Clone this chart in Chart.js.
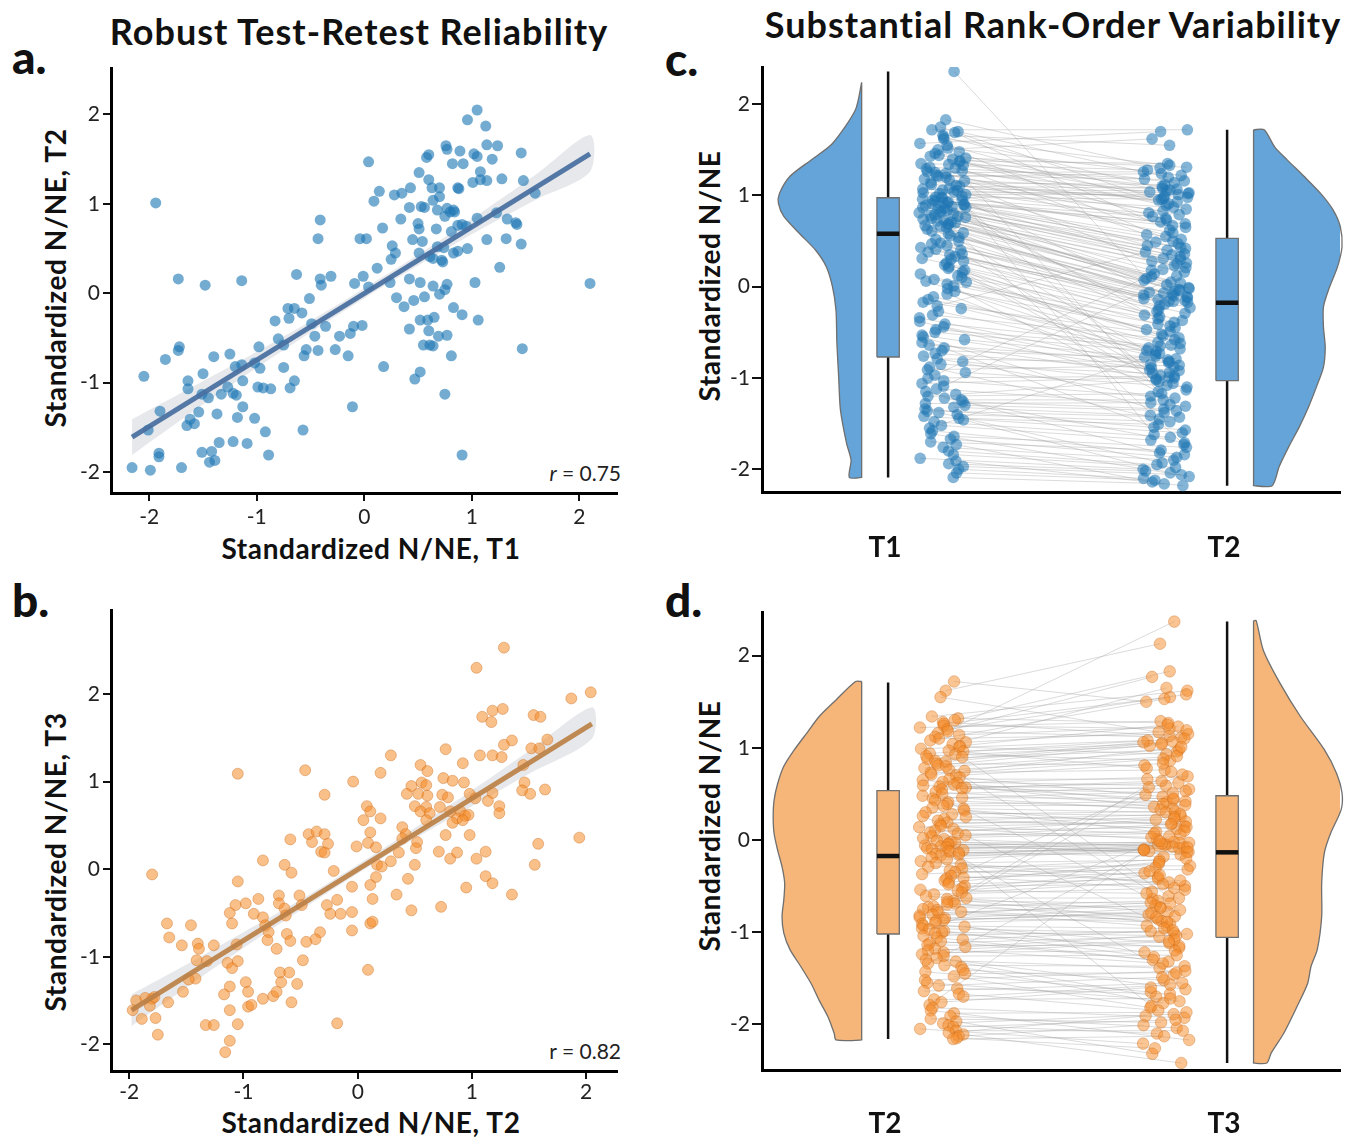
<!DOCTYPE html>
<html>
<head>
<meta charset="utf-8">
<title>N/NE stability</title>
<script src="https://cdn.jsdelivr.net/npm/chart.js@4.4.1/dist/chart.umd.min.js"></script>
<style>
  html, body { margin: 0; padding: 0; background: #fff; }
  body { width: 1349px; height: 1139px; position: relative; overflow: hidden; font-family: Lato, 'Open Sans', sans-serif; color: #111; }
  canvas { position: absolute; }
  .txt { position: absolute; white-space: nowrap; line-height: 1; }
  .ctr { transform: translateX(-50%); }
  .title { font-weight: 700; font-size: 36px; letter-spacing: 1px; }
  .letter { font-weight: 900; font-size: 46px; }
  .axt { font-weight: 700; font-size: 28px; letter-spacing: 0.6px; }
  .rot { transform: translate(-50%, -50%) rotate(-90deg); }
  .rval { font-size: 21px; color: #222; }
</style>
</head>
<body>
<div class="txt title ctr" style="left:359px; top:13px;">Robust Test-Retest Reliability</div>
<div class="txt title ctr" style="left:1053px; top:6px;">Substantial Rank-Order Variability</div>
<div class="txt letter" style="left:12px; top:34px;">a.</div>
<div class="txt letter" style="left:12px; top:577px;">b.</div>
<div class="txt letter" style="left:665px; top:36px;">c.</div>
<div class="txt letter" style="left:665px; top:577px;">d.</div>
<div class="txt axt ctr" style="left:371px; top:534px;">Standardized N/NE, T1</div>
<div class="txt axt ctr" style="left:371px; top:1108px;">Standardized N/NE, T2</div>
<div class="txt axt rot" style="left:55px; top:278px;">Standardized N/NE, T2</div>
<div class="txt axt rot" style="left:55px; top:862px;">Standardized N/NE, T3</div>
<div class="txt axt rot" style="left:709px; top:276px;">Standardized N/NE</div>
<div class="txt axt rot" style="left:709px; top:826px;">Standardized N/NE</div>
<div class="txt rval" style="right:728px; top:462px;"><i>r</i> = 0.75</div>
<div class="txt rval" style="right:728px; top:1040px;">r = 0.82</div>

<canvas id="panelA" width="640" height="540" style="left:0px; top:40px;"></canvas>
<canvas id="panelB" width="640" height="549" style="left:0px; top:590px;"></canvas>
<canvas id="panelC" width="689" height="540" style="left:660px; top:40px;"></canvas>
<canvas id="panelD" width="689" height="549" style="left:660px; top:590px;"></canvas>

<script>
// ---- data ----
const tickValues = [-2, -1, 0, 1, 2];

// panel a: T1 (x) vs T2 (y)
const aT1 = [1.05,0.96,1.13,0.76,0.77,0.89,1.14,1.24,0.60,0.58,1.02,1.05,1.19,1.46,0.04,0.82,0.92,0.51,1.08,1.01,
  0.60,1.08,1.14,1.28,1.48,0.63,0.70,0.87,0.88,0.43,0.14,0.28,0.35,0.70,0.64,0.09,0.53,0.42,0.56,0.68,
  0.77,0.80,0.83,0.84,0.75,1.23,1.33,1.05,1.41,1.42,0.34,0.50,0.51,0.87,0.91,0.95,0.81,0.67,0.17,-0.41,
  -0.43,-0.04,0.02,0.45,0.54,1.14,1.32,1.46,0.26,0.29,0.25,0.51,0.68,0.74,0.96,0.87,0.83,0.61,0.64,0.72,
  0.73,1.59,1.26,0.12,-0.63,-0.31,-0.41,-0.40,-0.01,-0.09,0.04,0.24,0.42,0.52,0.64,0.77,0.75,0.70,1.03,2.10,
  -1.73,-1.48,-1.14,-1.94,0.30,0.37,0.46,0.56,-0.51,-0.71,-0.65,-0.70,-0.58,-0.83,-0.49,-0.36,-0.10,-0.02,0.52,0.59,
  0.65,0.83,0.91,1.06,0.42,0.60,0.69,0.77,0.55,0.61,0.64,-0.80,-0.75,-0.46,-0.23,-0.13,1.47,0.81,-0.98,-0.54,
  -0.43,-0.27,-0.56,-0.15,-1.40,-1.25,-1.72,-1.73,-1.85,-1.02,-0.97,-1.14,-1.20,-0.75,0.18,0.52,0.47,-2.05,-1.50,-1.64,
  -1.64,-1.13,-0.65,-0.69,-0.99,-0.94,-0.87,-1.51,-1.45,-1.33,-1.27,-1.22,-1.19,0.75,-1.90,-1.54,-1.37,-1.18,-1.13,-1.02,
  -0.11,-1.62,-1.65,-1.58,-2.01,-0.92,-0.57,-1.35,-1.22,-1.09,-1.51,-1.42,-1.91,-1.91,-0.89,0.91,-1.44,-1.39,-2.16,-1.99,-1.70];
const aT2 = [2.05,1.94,1.87,1.65,1.61,1.59,1.66,1.65,1.55,1.52,1.56,1.53,1.50,1.57,1.47,1.45,1.45,1.35,1.36,1.24,
  1.27,1.27,1.26,1.28,1.26,1.18,1.18,1.18,1.17,1.18,1.14,1.10,1.12,1.08,1.04,1.03,0.97,0.96,0.96,0.93,
  0.95,0.91,0.93,0.91,0.86,0.90,0.83,0.84,0.79,0.77,0.83,0.78,0.72,0.76,0.77,0.75,0.69,0.72,0.73,0.82,
  0.61,0.61,0.61,0.60,0.58,0.60,0.61,0.55,0.53,0.45,0.38,0.45,0.52,0.51,0.50,0.47,0.45,0.41,0.39,0.37,
  0.35,1.12,0.29,0.28,0.21,0.19,0.16,0.09,0.19,0.11,0.07,0.12,0.16,0.12,0.08,0.10,0.04,-0.01,0.12,0.11,
  0.16,0.09,0.14,1.01,-0.05,-0.15,-0.08,-0.04,-0.06,-0.17,-0.17,-0.28,-0.22,-0.31,-0.34,-0.37,-0.37,-0.36,-0.30,-0.30,
  -0.27,-0.16,-0.24,-0.30,-0.40,-0.42,-0.48,-0.47,-0.58,-0.58,-0.59,-0.51,-0.58,-0.48,-0.48,-0.45,-0.62,-0.70,-0.60,-0.63,
  -0.64,-0.63,-0.70,-0.70,-0.71,-0.68,-0.60,-0.64,-0.74,-0.78,-0.84,-0.80,-0.82,-0.83,-0.82,-0.88,-0.96,-0.93,-0.90,-0.98,
  -1.07,-0.98,-0.98,-1.06,-1.05,-1.06,-1.07,-1.13,-1.17,-1.13,-1.05,-1.12,-1.14,-1.13,-1.32,-1.33,-1.35,-1.39,-1.27,-1.40,
  -1.27,-1.41,-1.48,-1.46,-1.53,-1.55,-1.53,-1.67,-1.66,-1.68,-1.78,-1.77,-1.79,-1.83,-1.81,-1.81,-1.89,-1.87,-1.95,-1.98,-1.95];
const fitAX = [-2.16, 2.10];
const fitAY = [-1.61, 1.56];
const bandAX = [-2.16, -1.6, -1.0, -0.5, 0, 0.5, 1.0, 1.6, 2.1];
const bandAUp = [-1.41, -1.05, -0.655, -0.31, 0.055, 0.43, 0.83, 1.33, 1.77];
const bandALo = [-1.81, -1.33, -0.835, -0.44, -0.055, 0.31, 0.66, 1.05, 1.36];

// panel b: T2 (x) vs T3 (y)
const bT2 = [1.28,1.04,2.04,1.87,1.27,1.18,1.09,1.17,1.54,1.60,1.35,1.28,1.66,1.52,1.59,0.77,1.07,1.18,1.26,0.29,
  1.45,0.92,0.55,0.61,-0.46,-1.05,0.20,0.75,0.83,0.93,-0.04,0.47,0.56,0.60,1.46,1.44,1.51,1.64,-0.29,0.43,
  0.53,0.61,0.74,0.79,0.98,1.18,1.14,1.03,0.08,0.50,0.60,0.72,0.55,0.81,1.24,1.24,0.63,0.90,0.87,0.94,
  0.97,0.83,0.92,0.11,0.05,0.20,0.39,0.42,0.39,0.11,0.77,0.98,0.52,0.51,0.60,-0.59,-0.43,-0.36,-0.29,-0.40,
  -0.26,-0.32,-0.29,-0.01,0.09,0.16,1.58,1.94,0.71,0.81,0.87,1.04,1.12,0.29,0.36,0.50,1.55,-0.83,-0.64,-0.58,
  -0.21,0.17,0.21,-1.80,-1.05,-0.05,0.11,0.16,0.44,1.12,1.18,0.95,1.35,0.34,0.13,-0.18,-0.51,-0.87,-0.69,-0.98,
  -1.07,-1.12,-0.91,-0.83,-0.69,-0.64,-0.63,-0.49,-0.27,-0.24,-0.15,-0.05,0.47,0.73,-1.10,-1.67,-1.46,-1.65,-0.81,-0.78,
  -0.79,-0.71,-0.62,-0.59,-0.33,-0.37,-0.45,-0.05,0.11,0.13,-1.54,-1.40,-1.39,-1.26,-1.06,-1.41,-1.32,-1.14,-1.10,-1.05,
  -0.48,0.09,-0.68,-0.60,-0.67,-0.53,-1.42,-1.48,-0.98,-0.96,-1.12,-1.53,-1.17,-0.83,-0.74,-0.71,-1.66,-1.94,-1.86,-1.80,
  -1.82,-1.78,-0.58,-1.97,-1.89,-1.77,-1.75,-1.33,-1.26,-1.05,-1.12,-0.96,-0.93,-0.18,-1.12,-1.16];
const bT3 = [2.53,2.30,2.02,1.95,1.83,1.81,1.74,1.68,1.76,1.74,1.47,1.42,1.48,1.38,1.38,1.37,1.30,1.30,1.28,1.30,
  1.19,1.21,1.19,1.12,1.13,1.09,1.10,1.04,1.01,0.99,1.00,0.95,0.99,0.96,0.99,0.90,0.86,0.91,0.85,0.86,
  0.86,0.84,0.85,0.82,0.86,0.87,0.78,0.81,0.72,0.72,0.71,0.71,0.66,0.66,0.72,0.64,0.64,0.66,0.58,0.61,
  0.62,0.53,0.56,0.66,0.56,0.58,0.48,0.40,0.35,0.42,0.39,0.39,0.31,0.24,0.56,0.34,0.40,0.43,0.40,0.31,
  0.29,0.20,0.19,0.26,0.30,0.25,0.29,0.36,0.20,0.12,0.19,0.12,0.20,0.09,0.19,0.05,0.05,0.10,0.05,-0.04,
  -0.02,0.05,0.03,-0.06,-0.14,-0.20,-0.18,-0.09,-0.11,-0.08,-0.16,-0.21,-0.29,-0.29,-0.34,-0.35,-0.30,-0.34,-0.30,-0.39,
  -0.41,-0.50,-0.51,-0.55,-0.39,-0.45,-0.53,-0.41,-0.41,-0.51,-0.51,-0.49,-0.47,-0.43,-0.62,-0.62,-0.64,-0.78,-0.64,-0.72,
  -0.81,-0.91,-0.74,-0.82,-0.72,-0.80,-0.83,-0.70,-0.62,-0.60,-0.87,-0.85,-0.91,-0.87,-0.86,-1.04,-1.05,-1.07,-1.13,-1.05,
  -1.04,-1.15,-1.18,-1.18,-1.29,-1.31,-1.25,-1.26,-1.29,-1.40,-1.34,-1.40,-1.43,-1.48,-1.45,-1.40,-1.52,-1.50,-1.47,-1.48,
  -1.56,-1.46,-1.52,-1.61,-1.71,-1.70,-1.89,-1.78,-1.78,-1.77,-1.61,-1.57,-1.55,-1.76,-1.96,-2.09];
const fitBX = [-1.98, 2.05];
const fitBY = [-1.61, 1.66];
const bandBX = [-1.98, -1.5, -1.0, -0.5, 0, 0.5, 1.0, 1.5, 2.05];
const bandBUp = [-1.43, -1.09, -0.72, -0.35, 0.05, 0.47, 0.90, 1.35, 1.85];
const bandBLo = [-1.79, -1.35, -0.90, -0.47, -0.05, 0.35, 0.72, 1.09, 1.49];

// panel c: the same people at T1 and T2 (index = person)
const cCats = ['T1', 'T2'];
const cT1 = [2.36,1.83,1.75,1.72,1.70,1.69,1.66,1.64,1.62,
  1.57,1.55,1.52,1.50,1.48,1.46,1.44,1.43,1.41,1.40,
  1.38,1.37,1.35,1.34,1.33,1.31,1.30,1.29,1.27,1.26,
  1.25,1.24,1.22,1.21,1.20,1.18,1.17,1.16,1.14,1.12,
  1.11,1.10,1.08,1.07,1.06,1.05,1.04,1.03,1.02,1.01,
  0.99,0.98,0.98,0.97,0.96,0.95,0.95,0.94,0.93,0.92,
  0.92,0.91,0.90,0.90,0.89,0.88,0.87,0.87,0.86,0.85,
  0.84,0.83,0.82,0.81,0.80,0.79,0.78,0.77,0.76,0.75,
  0.74,0.73,0.72,0.71,0.70,0.69,0.68,0.67,0.66,0.65,
  0.63,0.61,0.59,0.58,0.56,0.54,0.52,0.50,0.48,0.47,
  0.45,0.43,0.41,0.40,0.38,0.36,0.35,0.33,0.31,0.30,
  0.28,0.26,0.24,0.22,0.20,0.18,0.16,0.14,0.12,0.10,
  0.08,0.06,0.05,0.03,0.01,-0.02,-0.05,-0.08,-0.11,-0.14,
  -0.17,-0.21,-0.24,-0.27,-0.31,-0.34,-0.38,-0.41,-0.44,-0.47,
  -0.50,-0.53,-0.55,-0.58,-0.61,-0.64,-0.67,-0.70,-0.73,-0.76,
  -0.79,-0.82,-0.85,-0.88,-0.91,-0.94,-0.97,-1.00,-1.03,-1.06,
  -1.09,-1.12,-1.15,-1.18,-1.20,-1.22,-1.24,-1.26,-1.28,-1.30,
  -1.32,-1.34,-1.36,-1.38,-1.40,-1.42,-1.44,-1.46,-1.48,-1.52,
  -1.55,-1.58,-1.61,-1.64,-1.67,-1.70,-1.73,-1.76,-1.80,-1.84,
  -1.88,-1.91,-1.94,-1.97,-2.00,-2.04,-2.09];
const cT2 = [0.09,1.30,0.95,1.72,1.20,0.62,1.55,1.06,1.33,
  1.70,0.85,1.22,1.62,0.47,1.14,1.02,0.99,1.31,0.73,
  1.35,0.89,1.28,0.57,1.10,1.16,-1.29,1.04,0.91,0.79,
  1.26,0.67,1.18,1.24,0.28,0.93,1.07,0.52,1.12,0.97,
  0.83,1.08,0.45,1.05,0.75,0.98,-1.62,1.03,0.87,1.01,
  0.59,0.96,0.31,0.81,0.71,-0.16,0.65,0.50,0.77,0.42,
  0.69,0.36,0.55,-1.01,0.43,-0.45,0.40,0.49,0.25,0.33,
  0.35,-0.05,0.30,0.21,-0.27,0.26,0.23,0.18,0.05,0.16,
  0.14,-1.73,0.11,0.07,-0.02,0.04,0.02,-0.10,-0.01,-0.35,
  -0.03,-0.04,-0.06,-0.88,-0.07,-0.08,-0.09,-0.19,-0.11,-0.12,
  -0.13,-0.14,-0.21,-0.15,-0.23,-1.13,-0.16,-0.17,-0.25,-0.29,
  -0.31,-0.74,-0.37,-1.04,-0.41,-0.54,-0.91,-0.47,-0.33,-0.62,
  -0.39,-0.80,-0.56,-1.15,-0.43,-0.64,-0.49,-0.97,-0.67,-0.61,
  -0.52,0.38,-0.70,-0.76,-0.58,-0.85,-1.08,-0.65,-0.89,-0.68,
  -0.71,-0.94,-1.38,-0.77,-1.00,-0.82,-1.54,-0.79,-0.92,-1.20,
  -0.83,-1.06,-0.95,-1.45,-0.86,-1.10,0.19,-0.98,-1.22,-0.99,
  0.12,-1.31,-1.82,-1.02,-1.17,-1.71,-1.24,-1.34,-1.27,-1.36,
  -1.41,-1.57,-1.43,-1.93,-1.48,-1.60,-1.51,-2.04,-1.65,-1.68,
  -0.73,-1.84,-2.08,-1.76,-1.87,-1.79,-2.14,-1.90,-1.95,-1.98,
  -2.00,-2.18,-2.02,-2.06,-2.10,-2.12,-2.16];
// box: [lower whisker, Q1, median, Q3, upper whisker]
const cBoxT1 = [-2.09, -0.77, 0.58, 0.975, 2.36];
const cBoxT2 = [-2.18, -1.03, -0.175, 0.53, 1.72];
// half violins: y level and relative density
const cViolinT1Y = [2.24,1.94,1.57,1.39,1.21,1.02,0.91,0.77,0.58,0.40,0.22,0,-0.26,-0.62,-0.99,-1.35,-1.72,-1.90,-2.09];
const cViolinT1D = [0,0.07,0.33,0.57,0.81,0.93,0.94,0.88,0.70,0.52,0.40,0.33,0.29,0.28,0.26,0.24,0.17,0.12,0.14];
const cViolinT2Y = [1.72,1.53,1.39,1.21,1.02,0.84,0.66,0.44,0.22,0,-0.22,-0.44,-0.66,-0.88,-1.10,-1.32,-1.53,-1.75,-1.97,-2.18];
const cViolinT2D = [0.12,0.24,0.38,0.57,0.76,0.90,0.98,1.0,0.95,0.86,0.79,0.79,0.81,0.79,0.71,0.62,0.52,0.40,0.29,0.21];

// panel d: the same people at T2 and T3
const dCats = ['T2', 'T3'];
const dT2 = [1.72,1.62,1.55,1.34,1.32,1.30,1.28,1.26,1.24,1.22,
  1.20,1.18,1.16,1.14,1.12,1.10,1.08,1.06,1.04,1.02,
  1.01,0.99,0.97,0.96,0.94,0.93,0.91,0.90,0.88,0.86,
  0.85,0.83,0.81,0.80,0.78,0.76,0.75,0.73,0.71,0.70,
  0.68,0.66,0.65,0.63,0.62,0.60,0.59,0.58,0.57,0.56,
  0.55,0.52,0.50,0.48,0.46,0.45,0.43,0.41,0.39,0.37,
  0.35,0.34,0.32,0.30,0.28,0.26,0.25,0.23,0.21,0.19,
  0.17,0.15,0.14,0.12,0.10,0.08,0.07,0.05,0.04,0.02,
  0.01,-0.01,-0.02,-0.03,-0.04,-0.05,-0.06,-0.07,-0.08,-0.09,
  -0.10,-0.11,-0.12,-0.13,-0.14,-0.15,-0.16,-0.17,-0.19,-0.21,
  -0.23,-0.25,-0.27,-0.29,-0.31,-0.33,-0.35,-0.37,-0.39,-0.41,
  -0.42,-0.44,-0.46,-0.48,-0.50,-0.52,-0.54,-0.55,-0.57,-0.59,
  -0.61,-0.63,-0.64,-0.66,-0.67,-0.69,-0.70,-0.72,-0.73,-0.75,
  -0.76,-0.78,-0.79,-0.81,-0.82,-0.84,-0.85,-0.87,-0.88,-0.90,
  -0.91,-0.93,-0.94,-0.96,-0.97,-0.99,-1.00,-1.01,-1.04,-1.06,
  -1.08,-1.10,-1.12,-1.14,-1.16,-1.18,-1.20,-1.22,-1.24,-1.26,
  -1.28,-1.30,-1.32,-1.34,-1.36,-1.38,-1.41,-1.43,-1.45,-1.48,
  -1.52,-1.55,-1.58,-1.61,-1.64,-1.67,-1.70,-1.73,-1.76,-1.79,
  -1.82,-1.85,-1.88,-1.91,-1.94,-1.97,-1.99,-2.01,-2.03,-2.05,
  -2.07,-2.09,-2.11,-2.13,-2.15,-2.16];
const dT3 = [1.50,2.13,1.17,1.62,1.27,1.83,1.13,1.55,1.21,1.29,
  1.58,1.11,1.77,1.23,2.37,1.15,1.53,1.19,1.65,1.25,
  0.93,1.08,0.78,1.05,1.10,0.86,1.02,-0.61,0.98,1.06,
  1.07,0.81,1.04,-0.56,0.96,0.91,1.01,0.76,0.88,0.83,
  0.47,0.66,0.41,0.59,0.69,0.36,0.55,0.44,0.62,0.51,
  0.64,0.39,0.57,0.33,0.45,0.53,0.34,-0.64,0.42,0.38,
  0.15,0.30,0.09,0.26,0.31,-0.94,0.22,0.12,0.28,0.18,
  0.25,0.06,0.20,0.01,0.14,0.23,0.03,0.17,0.10,0.07,
  -0.08,-1.80,-0.11,-0.03,-0.16,-0.05,-0.02,-0.13,-0.06,-0.09,
  -0.03,-0.12,-1.46,-0.18,-0.07,-0.10,-0.05,-0.13,-0.08,-0.11,
  -0.40,-0.22,-0.50,-0.28,-0.20,-0.46,-0.32,-0.26,-0.54,-0.36,
  -0.30,0.71,-0.24,-0.42,-0.48,-0.34,-0.58,-0.38,-0.44,-0.52,
  -0.78,-0.63,-0.86,-0.69,0.74,-0.91,-0.73,-0.81,-0.66,-0.88,
  0.49,-0.93,-0.71,-0.83,-0.68,-0.89,-0.74,-0.79,-0.76,-0.84,
  -1.12,-0.96,-1.22,-1.01,0.04,-1.27,-1.04,-1.17,-0.99,-1.32,
  -0.98,-1.30,-1.05,-1.15,-1.02,-1.34,-1.08,-1.20,-1.10,-1.25,
  -1.62,-1.39,-1.70,-0.04,-1.37,-1.77,-1.52,-1.65,-1.44,-1.82,
  -1.42,-1.75,-1.49,-1.67,-1.55,-1.85,-1.57,-1.72,-1.60,-0.01,
  -1.93,-2.17,-1.87,-2.04,-1.98,-2.32,-1.89,-2.10,-1.95,-2.21,
  -2.07,-1.91,-2.42,-2.01,-2.26,-2.13];
const dBoxT2 = [-2.16, -1.02, -0.174, 0.535, 1.71];
const dBoxT3 = [-2.42, -1.056, -0.134, 0.48, 2.37];
const dViolinT2Y = [1.72,1.52,1.34,1.16,0.98,0.80,0.61,0.43,0.25,0.07,-0.11,-0.29,-0.47,-0.65,-0.83,-1.01,-1.19,-1.37,-1.56,-1.74,-1.92,-2.10,-2.17];
const dViolinT2D = [0.07,0.29,0.48,0.62,0.76,0.88,0.95,0.99,1.0,0.99,0.95,0.90,0.87,0.88,0.90,0.88,0.81,0.69,0.57,0.48,0.38,0.31,0.29];
const dViolinT3Y = [2.38,2.06,1.70,1.34,0.98,0.72,0.51,0.33,0.07,-0.14,-0.47,-0.83,-1.19,-1.37,-1.56,-1.81,-2.10,-2.31,-2.42];
const dViolinT3D = [0.03,0.11,0.30,0.53,0.80,0.94,1.0,0.99,0.87,0.80,0.77,0.77,0.72,0.65,0.61,0.49,0.34,0.20,0.15];

// ---- layout of the raincloud panels (x units: first time point = 1, second = 2) ----
const BOX_SHIFT = 0.009;   // box centre right of the category position
const BOX_HW = 0.033;      // half box width
const VIOLIN_GAP = 0.078;  // flat edge of a half violin from the box centre
const VIOLIN_W = 0.261;    // widest part of a half violin
const PTS_NEAR = 0.10;     // jittered dots: closest offset from the category
const PTS_SPREAD = 0.14;   // jittered dots: spread

Chart.defaults.font.family = "Lato, 'Open Sans', sans-serif";
Chart.defaults.color = '#1b1b1b';
Chart.defaults.animation = false;
Chart.defaults.plugins.legend.display = false;
Chart.defaults.plugins.tooltip.enabled = false;

const xy = (xs, ys) => xs.map((x, i) => ({ x: x, y: ys[i] }));

// fixed jitter per person so the dots sit in a band like the original
function jitter(i, salt) {
  const s = Math.sin((i + 1) * 12.9898 + salt * 78.233) * 43758.5453;
  return s - Math.floor(s);
}

function numAxis(min, max, size, horizontal, tickLen, pad) {
  return {
    type: 'linear', min: min, max: max,
    afterBuildTicks: s => { s.ticks = tickValues.map(v => ({ value: v })); },
    afterFit: s => { if (horizontal) s.height = size; else s.width = size; },
    grid: { drawOnChartArea: false, drawTicks: true, tickLength: tickLen, color: '#111', lineWidth: 2 },
    border: { display: true, color: '#000', width: 3 },
    ticks: { font: { size: 21 }, color: '#222', padding: pad, maxRotation: 0, callback: v => String(v) }
  };
}

function scatterPanel(id, xs, ys, fitX, fitY, bandX, bandUp, bandLo, look, box) {
  const band = xy(bandX, bandUp).concat(xy(bandX, bandLo).reverse());
  new Chart(document.getElementById(id), {
    type: 'line',
    data: {
      datasets: [
        { data: xy(fitX, fitY), borderColor: look.line, borderWidth: 5, pointRadius: 0, order: 1 },
        { data: xy(xs, ys), showLine: false, pointRadius: 5.5, pointBackgroundColor: look.dot,
          pointBorderColor: look.dotEdge, pointBorderWidth: look.dotEdgeW, order: 2 },
        { data: band, fill: 'shape', backgroundColor: 'rgba(188,194,202,0.38)', borderWidth: 0,
          pointRadius: 0, tension: 0.3, order: 3 }
      ]
    },
    options: {
      responsive: false,
      devicePixelRatio: 1,
      layout: { padding: { top: box.padTop, right: box.padRight, left: 0, bottom: 0 } },
      scales: {
        x: numAxis(box.x[0], box.x[1], box.xh, true, 8, box.xPad),
        y: numAxis(box.y[0], box.y[1], box.yw, false, 8, 3)
      }
    }
  });
}

function violinShape(pos, side, ys, dens) {
  const flat = pos + BOX_SHIFT + side * VIOLIN_GAP;
  const top = ys[0], bottom = ys[ys.length - 1];
  const pts = [{ x: flat, y: top }];
  ys.forEach((y, i) => pts.push({ x: flat + side * dens[i] * VIOLIN_W, y: y }));
  pts.push({ x: flat, y: bottom }, { x: flat, y: bottom + 0.015 }, { x: flat, y: top - 0.015 }, { x: flat, y: top });
  return pts;
}

function boxSets(pos, stats, fillColor) {
  const cx = pos + BOX_SHIFT;
  return [
    { data: [{ x: cx, y: stats[0] }, { x: cx, y: stats[4] }], borderColor: '#111', borderWidth: 2.5, pointRadius: 0, order: 4 },
    { data: [{ x: cx - BOX_HW, y: stats[1] }, { x: cx - BOX_HW, y: stats[3] }, { x: cx + BOX_HW, y: stats[3] },
             { x: cx + BOX_HW, y: stats[1] }, { x: cx - BOX_HW, y: stats[1] }],
      fill: 'shape', backgroundColor: fillColor, borderColor: '#6f6f6f', borderWidth: 1.3, pointRadius: 0, order: 3 },
    { data: [{ x: cx - BOX_HW, y: stats[2] }, { x: cx + BOX_HW, y: stats[2] }], borderColor: '#111', borderWidth: 4.5, pointRadius: 0, order: 2 }
  ];
}

function rainPanel(id, cats, first, second, boxA, boxB, violA, violB, look, box) {
  const xA = first.map((v, i) => 1 + PTS_NEAR + jitter(i, 1) * PTS_SPREAD);
  const xB = second.map((v, i) => 2 - PTS_NEAR - PTS_SPREAD + jitter(i, 2) * PTS_SPREAD);
  const links = [];
  first.forEach((v, i) => {
    links.push({ x: xA[i], y: v }, { x: xB[i], y: second[i] }, { x: xB[i], y: null });
  });
  const dots = (xs, ys) => ({ data: xy(xs, ys), showLine: false, pointRadius: 5.8,
    pointBackgroundColor: look.dot, pointBorderColor: look.dotEdge, pointBorderWidth: look.dotEdgeW, order: 1 });
  new Chart(document.getElementById(id), {
    type: 'line',
    data: {
      datasets: [
        { data: links, borderColor: 'rgba(160,160,160,0.42)', borderWidth: 0.9, pointRadius: 0, spanGaps: false, order: 6 },
        { data: violinShape(1, -1, violA[0], violA[1]), fill: 'shape', backgroundColor: look.fill,
          borderColor: '#6f6f6f', borderWidth: 1.3, pointRadius: 0, tension: 0.25, clip: false, order: 5 },
        { data: violinShape(2, 1, violB[0], violB[1]), fill: 'shape', backgroundColor: look.fill,
          borderColor: '#6f6f6f', borderWidth: 1.3, pointRadius: 0, tension: 0.25, clip: false, order: 5 },
        ...boxSets(1, boxA, look.fill),
        ...boxSets(2, boxB, look.fill),
        dots(xA, first),
        dots(xB, second)
      ]
    },
    options: {
      responsive: false,
      devicePixelRatio: 1,
      layout: { padding: { top: box.padTop, right: box.padRight, left: 0, bottom: 0 } },
      scales: {
        x: {
          type: 'linear', min: 0.637, max: 2.342,
          afterBuildTicks: s => { s.ticks = [{ value: 1 }, { value: 2 }]; },
          afterFit: s => { s.height = box.xh; },
          grid: { display: false, drawTicks: false },
          border: { display: true, color: '#000', width: 3 },
          ticks: { font: { size: 28, weight: 'bold' }, color: '#111', padding: box.xPad, maxRotation: 0,
                   callback: v => cats[v - 1] }
        },
        y: numAxis(box.y[0], box.y[1], box.yw, false, 10, 2)
      }
    }
  });
}

const blueDots = { dot: 'rgba(31,119,180,0.62)', dotEdge: 'rgba(31,119,180,0)', dotEdgeW: 0 };
const orangeDots = { dot: 'rgba(245,140,40,0.55)', dotEdge: 'rgba(200,105,25,0.5)', dotEdgeW: 0.8 };

scatterPanel('panelA', aT1, aT2, fitAX, fitAY, bandAX, bandAUp, bandALo,
  Object.assign({ line: 'rgba(72,110,160,0.92)' }, blueDots),
  { padTop: 28, padRight: 23, xh: 87, yw: 111, x: [-2.356, 2.351], y: [-2.235, 2.52], xPad: 4 });

scatterPanel('panelB', bT2, bT3, fitBX, fitBY, bandBX, bandBUp, bandBLo,
  Object.assign({ line: 'rgba(188,128,70,0.92)' }, orangeDots),
  { padTop: 20, padRight: 23, xh: 68, yw: 111, x: [-2.16, 2.27], y: [-2.305, 2.96], xPad: 1 });

rainPanel('panelC', cCats, cT1, cT2, cBoxT1, cBoxT2, [cViolinT1Y, cViolinT1D], [cViolinT2Y, cViolinT2D],
  { dot: 'rgba(31,119,180,0.55)', dotEdge: 'rgba(31,119,180,0)', dotEdgeW: 0, fill: 'rgb(100,164,216)' },
  { padTop: 27, padRight: 9, xh: 87.5, yw: 102, y: [-2.255, 2.408], xPad: 39 });

rainPanel('panelD', dCats, dT2, dT3, dBoxT2, dBoxT3, [dViolinT2Y, dViolinT2D], [dViolinT3Y, dViolinT3D],
  { dot: 'rgba(245,140,40,0.5)', dotEdge: 'rgba(200,105,25,0.45)', dotEdgeW: 0.8, fill: 'rgb(246,182,122)' },
  { padTop: 22, padRight: 9, xh: 69, yw: 102, y: [-2.496, 2.474], xPad: 37 });
</script>
</body>
</html>
